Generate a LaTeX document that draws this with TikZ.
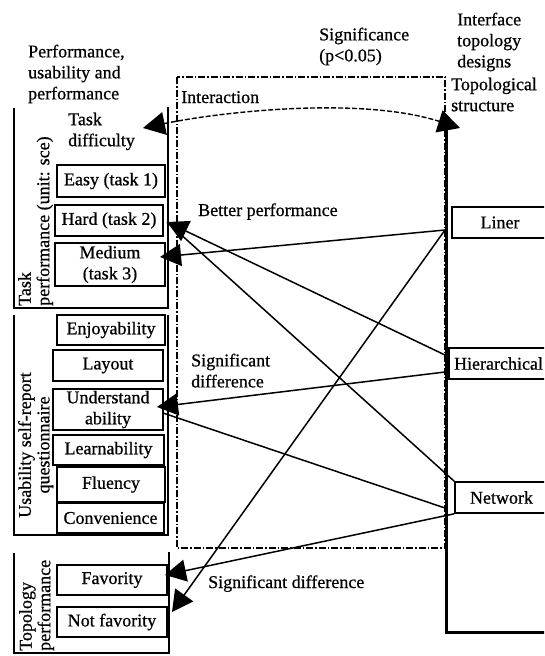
\documentclass[tikz,border=0pt]{standalone}
\usepackage{fontspec}
\setmainfont{Liberation Serif}[FakeBold=0.7]
\usetikzlibrary{arrows.meta}
\begin{document}
\begin{tikzpicture}[x=1pt,y=-1pt,
  every node/.style={font=\fontsize{18}{21}\selectfont, inner sep=0pt},
  box/.style={draw, line width=1.6pt, align=center},
  grp/.style={line width=1.6pt},
  conn/.style={line width=1.5pt},
  head/.style={-{Triangle[length=21pt,width=22pt]}},
  lbl/.style={align=left, anchor=north west},
  rot/.style={rotate=90, font=\fontsize{18}{18.5}\selectfont},
]
\useasboundingbox (0,0) rectangle (544,656);
\clip (0,0) rectangle (544,656);

% headings
\node[lbl] (title) at (28,44.5) {Performance,\\usability and\\performance};
\node[lbl] (signif) at (319,27.5) {Significance\\(p<0.05)};
\node[lbl] (iface) at (457,12.5) {Interface\\topology\\designs};
\node[lbl] (topstr) at (451,77.5) {Topological\\structure};

% interaction frame
\draw[line width=1.3pt, dash pattern=on 7pt off 2pt on 1.5pt off 2pt] (177,77) rectangle (445,548);
\node[anchor=base west] (inter) at (181,103) {Interaction};

% groups
\draw[grp] (14,108) -- (14,308) -- (168,308) -- (168,107);
\draw[grp] (14,315) -- (14,535) -- (168,535) -- (168,315);
\draw[grp] (14,553) -- (14,653) -- (169,653) -- (169,552);

\node[rot, anchor=north west, align=left] (tplab) at (18,306) {Task\\performance (unit: sce)};
\node[rot, anchor=north, align=center] (uslab) at (18,445) {Usability self-report\\questionnaire};
\node[rot, anchor=north west, align=left] (toplab) at (19,651) {Topology\\performance};

\node[lbl] (tdiff) at (68,112.5) {Task\\difficulty};

% left boxes
\node[box, minimum width=108, minimum height=32] (easy) at (111,181) {Easy (task 1)};
\node[box, minimum width=108, minimum height=31] (hard) at (109,220.5) {Hard (task 2)};
\node[box, minimum width=110, minimum height=43] (medium) at (110,264.5) {Medium\\(task 3)};
\node[box, minimum width=108, minimum height=30] (enjoy) at (111,330) {Enjoyability};
\node[box, minimum width=110, minimum height=31] (layout) at (108,365.5) {Layout};
\node[box, minimum width=110, minimum height=41] (under) at (108,409.5) {Understand\\ability};
\node[box, minimum width=111, minimum height=30] (learn) at (108.5,450) {Learnability};
\node[box, minimum width=108, minimum height=35] (fluency) at (111,484.5) {Fluency};
\node[box, minimum width=107, minimum height=30] (conv) at (110.5,518) {Convenience};
\node[box, minimum width=110, minimum height=30] (fav) at (112,580) {Favority};
\node[box, minimum width=110, minimum height=30] (notfav) at (112,622) {Not favority};

% right side
\draw[line width=3pt] (446,115) |- (548,632);
\node[box, minimum width=96, minimum height=31] (liner) at (500,222.5) {Liner};
\node[box, minimum width=99, minimum height=31] (hier) at (498.5,363.5) {Hierarchical};
\node[box, minimum width=93, minimum height=31] (network) at (501.5,497.5) {Network};

% interaction curve
\coordinate (cl) at (143,128);
\coordinate (cr) at (460,128);
\draw[dash pattern=on 5pt off 2pt, line width=1.4pt, {Triangle[length=22pt,width=23pt]}-{Triangle[length=22pt,width=23pt]}]
  (cl) .. controls (220,112) and (360,96) .. (cr);

% connector end points
\coordinate (L1) at (445,230);
\coordinate (H1) at (445,355);
\coordinate (H2) at (445,372);
\coordinate (N1) at (445,508);
\coordinate (tMed) at (160,257);
\coordinate (tNot) at (172,612);
\coordinate (tHard) at (167,222);
\coordinate (tUnd) at (157,407);
\coordinate (sUnd) at (163,413);
\coordinate (tFav) at (165,575);

\draw[conn,head] (L1) -- (tMed);
\draw[conn,head] (L1) -- (tNot);
\draw[conn,head] (H1) -- (tHard);
\draw[conn,head] (H2) -- (tUnd);
\draw[conn] (network.north west) -- (tHard);
\draw[conn] (sUnd) -- (N1);
\draw[conn,head] (network.south west) -- (tFav);

% labels
\node[anchor=base west] (better) at (198,216) {Better performance};
\node[lbl] (sigd1) at (191,353.5) {Significant\\difference};
\node[anchor=base west] (sigd2) at (208,588) {Significant difference};
\end{tikzpicture}
\end{document}
